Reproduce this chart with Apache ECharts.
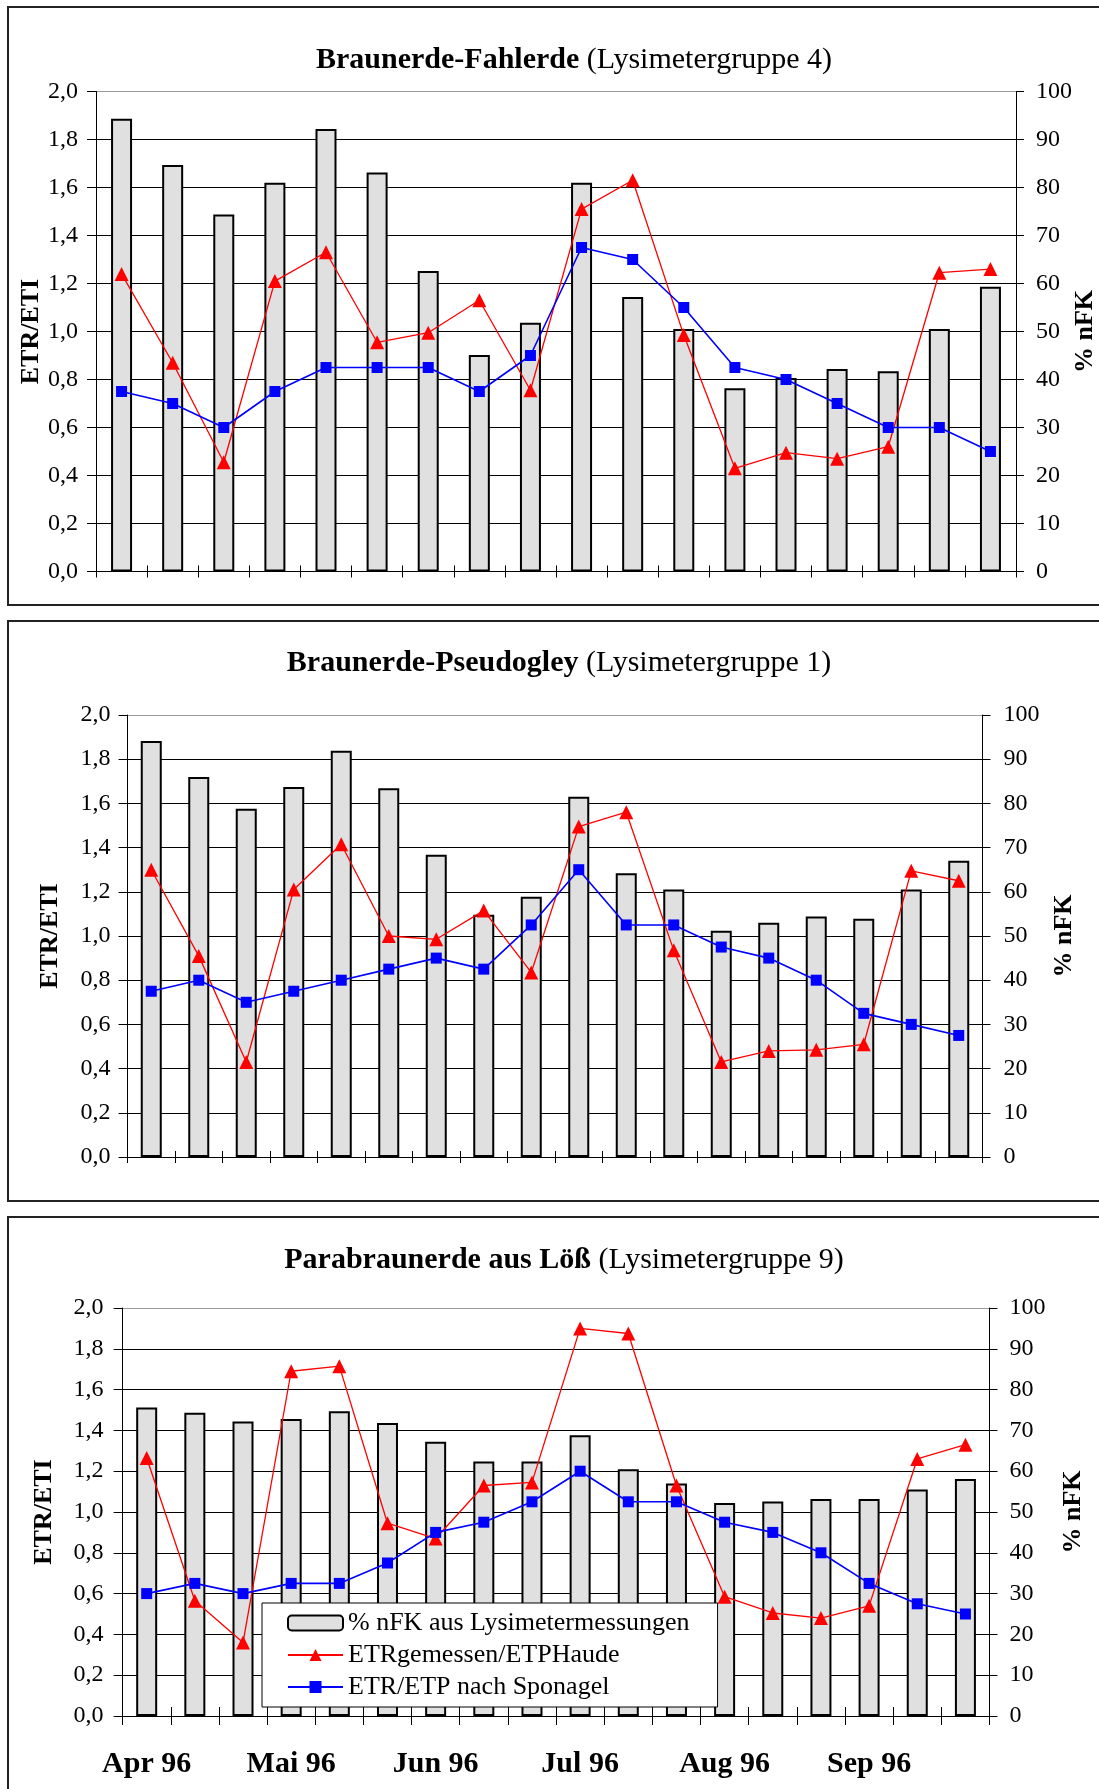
<!DOCTYPE html>
<html><head><meta charset="utf-8">
<script src="https://cdn.jsdelivr.net/npm/echarts@6/dist/echarts.min.js"></script>
<style>html,body{margin:0;padding:0;background:#fff}#c{width:1099px;height:1789px}</style>
</head><body><div id="c"></div>
<script>
// ---- data ----
const months = ['Apr 96', 'Mai 96', 'Jun 96', 'Jul 96', 'Aug 96', 'Sep 96'];
const decades = ['I', 'II', 'III'];
const categories = [];
months.forEach(m => decades.forEach(d => categories.push(m + ' ' + d)));
const leftTicks = ['0,0', '0,2', '0,4', '0,6', '0,8', '1,0', '1,2', '1,4', '1,6', '1,8', '2,0'];
const rightTicks = ['0', '10', '20', '30', '40', '50', '60', '70', '80', '90', '100'];
const seriesNames = ['% nFK aus Lysimetermessungen', 'ETRgemessen/ETPHaude', 'ETR/ETP nach Sponagel'];
const titleBold = ['Braunerde-Fahlerde', 'Braunerde-Pseudogley', 'Parabraunerde aus Löß'];
const titleNormal = ['(Lysimetergruppe 4)', '(Lysimetergruppe 1)', '(Lysimetergruppe 9)'];
const leftName = 'ETR/ETI';
const rightName = '% nFK';

// Panel 1: Braunerde-Fahlerde
const nfk1 = [94.3, 84.7, 74.4, 81.0, 92.2, 83.1, 62.6, 45.1, 51.8, 81.0, 57.2, 50.5, 38.2, 40.3, 42.2, 41.7, 50.5, 59.3];
const haude1 = [1.24, 0.87, 0.455, 1.21, 1.33, 0.955, 0.995, 1.13, 0.755, 1.51, 1.63, 0.985, 0.43, 0.495, 0.47, 0.52, 1.245, 1.26];
const sponagel1 = [0.75, 0.70, 0.60, 0.75, 0.85, 0.85, 0.85, 0.75, 0.90, 1.35, 1.30, 1.10, 0.85, 0.80, 0.70, 0.60, 0.60, 0.50];
// Panel 2: Braunerde-Pseudogley
const nfk2 = [94.1, 86.0, 78.8, 83.7, 91.9, 83.4, 68.4, 54.8, 58.9, 81.5, 64.2, 60.5, 51.2, 53.0, 54.4, 53.9, 60.5, 67.0];
const haude2 = [1.30, 0.91, 0.43, 1.21, 1.415, 1.0, 0.985, 1.115, 0.835, 1.495, 1.56, 0.935, 0.43, 0.48, 0.485, 0.51, 1.295, 1.25];
const sponagel2 = [0.75, 0.80, 0.70, 0.75, 0.80, 0.85, 0.90, 0.85, 1.05, 1.30, 1.05, 1.05, 0.95, 0.90, 0.80, 0.65, 0.60, 0.55];
// Panel 3: Parabraunerde aus Löß
const nfk3 = [75.6, 74.3, 72.2, 72.8, 74.7, 71.8, 67.2, 62.4, 62.4, 68.8, 60.5, 57.0, 52.2, 52.6, 53.2, 53.2, 55.5, 58.1];
const haude3 = [1.265, 0.565, 0.36, 1.69, 1.715, 0.945, 0.87, 1.13, 1.145, 1.90, 1.875, 1.13, 0.585, 0.505, 0.48, 0.54, 1.26, 1.33];
const sponagel3 = [0.60, 0.65, 0.60, 0.65, 0.65, 0.75, 0.90, 0.95, 1.05, 1.20, 1.05, 1.05, 0.95, 0.90, 0.80, 0.65, 0.55, 0.50];

const nfkData = [nfk1, nfk2, nfk3];
const haudeData = [haude1, haude2, haude3];
const sponagelData = [sponagel1, sponagel2, sponagel3];

// ---- layout ----
const FONT = "'Liberation Serif','Times New Roman',serif";
const panels = [
  {left: 96, right: 83, top: 91.5, height: 480, mL: 18, mR: 20, gL: 52, gR: 56, tx: 574, ty: 60, by: 7, bh: 598, tick: 6, labels: false},
  {left: 127.5, right: 116.5, top: 715, height: 442, mL: 17, mR: 21, gL: 64, gR: 69, tx: 559, ty: 663, by: 621, bh: 580, tick: 6, labels: false},
  {left: 122.6, right: 109.5, top: 1308, height: 408, mL: 19, mR: 20, gL: 65, gR: 71, tx: 564, ty: 1260, by: 1217, bh: 600, tick: 9, labels: true}
];

const grid = [], xAxis = [], yAxis = [], series = [], graphic = [];
const splitColors = leftTicks.map((t, i) => i === leftTicks.length - 1 ? '#9a9a9a' : '#000');

panels.forEach((p, i) => {
  grid.push({left: p.left, right: p.right, top: p.top, height: p.height, containLabel: false, outerBoundsMode: 'none'});
  xAxis.push({
    gridIndex: i, type: 'category', data: categories, boundaryGap: true,
    axisLine: {show: true, lineStyle: {color: '#000', width: 1}},
    axisTick: {show: true, interval: 0, length: p.tick, lineStyle: {color: '#000'}},
    axisLabel: {show: p.labels, interval: 2, margin: 33, color: '#000', fontFamily: FONT, fontSize: 30, fontWeight: 'bold',
      formatter: v => v.replace(/ (I|II|III)$/, '')},
    splitLine: {show: false}
  });
  xAxis.push({
    gridIndex: i, type: 'category', data: categories, boundaryGap: true, position: 'bottom',
    axisLine: {show: false},
    axisTick: {show: true, inside: true, interval: 0, length: p.tick, lineStyle: {color: '#000'}},
    axisLabel: {show: false}, splitLine: {show: false}
  });
  yAxis.push({
    gridIndex: i, type: 'value', position: 'left', min: 0, max: 2, interval: 0.2,
    name: leftName, nameLocation: 'middle', nameGap: p.gL, nameRotate: 90, nameMoveOverlap: false,
    nameTextStyle: {fontFamily: FONT, fontSize: 26, fontWeight: 'bold', color: '#000'},
    axisLine: {show: true, lineStyle: {color: '#000', width: 1}},
    axisTick: {show: true, length: 9, lineStyle: {color: '#000'}},
    axisLabel: {margin: p.mL, color: '#000', fontFamily: FONT, fontSize: 24,
      formatter: v => leftTicks[Math.round(v / 0.2)]},
    splitLine: {show: true, lineStyle: {color: splitColors, width: 1}}
  });
  yAxis.push({
    gridIndex: i, type: 'value', position: 'right', min: 0, max: 100, interval: 10,
    name: rightName, nameLocation: 'middle', nameGap: p.gR, nameRotate: 90, nameMoveOverlap: false,
    nameTextStyle: {fontFamily: FONT, fontSize: 26, fontWeight: 'bold', color: '#000'},
    axisLine: {show: true, lineStyle: {color: '#000', width: 1}},
    axisTick: {show: true, length: 8, lineStyle: {color: '#000'}},
    axisLabel: {margin: p.mR, color: '#000', fontFamily: FONT, fontSize: 24,
      formatter: v => rightTicks[Math.round(v / 10)]},
    splitLine: {show: false}
  });
  series.push({
    name: seriesNames[0], type: 'bar', xAxisIndex: i * 2, yAxisIndex: i * 2 + 1,
    data: nfkData[i], barWidth: 21,
    itemStyle: {color: '#e0e0e0', borderColor: '#000', borderWidth: 2},
    emphasis: {disabled: true}, z: 2
  });
  series.push({
    name: seriesNames[1], type: 'line', xAxisIndex: i * 2, yAxisIndex: i * 2,
    data: haudeData[i], symbol: 'triangle', symbolSize: 14,
    lineStyle: {color: '#ff0000', width: 1.3}, itemStyle: {color: '#ff0000'},
    emphasis: {disabled: true}, z: 4
  });
  series.push({
    name: seriesNames[2], type: 'line', xAxisIndex: i * 2, yAxisIndex: i * 2,
    data: sponagelData[i], symbol: 'rect', symbolSize: 11,
    lineStyle: {color: '#0000ff', width: 1.6}, itemStyle: {color: '#0000ff'},
    emphasis: {disabled: true}, z: 5
  });
  graphic.push({
    type: 'rect', shape: {x: 8, y: p.by, width: 1110, height: p.bh},
    style: {fill: 'none', stroke: '#222', lineWidth: 2}, z: -1, silent: true
  });
  graphic.push({
    type: 'text', x: p.tx, y: p.ty, silent: true,
    style: {
      text: '{b|' + titleBold[i] + '}{n| ' + titleNormal[i] + '}',
      rich: {
        b: {fontFamily: FONT, fontSize: 30, fontWeight: 'bold', fill: '#000'},
        n: {fontFamily: FONT, fontSize: 30, fill: '#000'}
      },
      align: 'center', verticalAlign: 'middle', fill: '#000'
    }
  });
});

const chart = echarts.init(document.getElementById('c'), null, {renderer: 'canvas'});
chart.setOption({
  animation: false,
  backgroundColor: '#fff',
  grid, xAxis, yAxis, series, graphic,
  legend: {
    data: seriesNames, orient: 'vertical', left: 262, top: 1603,
    padding: [7, 28, 7, 25], itemGap: 6, itemWidth: 55, itemHeight: 15,
    backgroundColor: '#fff', borderColor: '#000', borderWidth: 1,
    textStyle: {fontFamily: FONT, fontSize: 26, color: '#000'},
    selectedMode: false, z: 10
  }
});
</script>
</body></html>
